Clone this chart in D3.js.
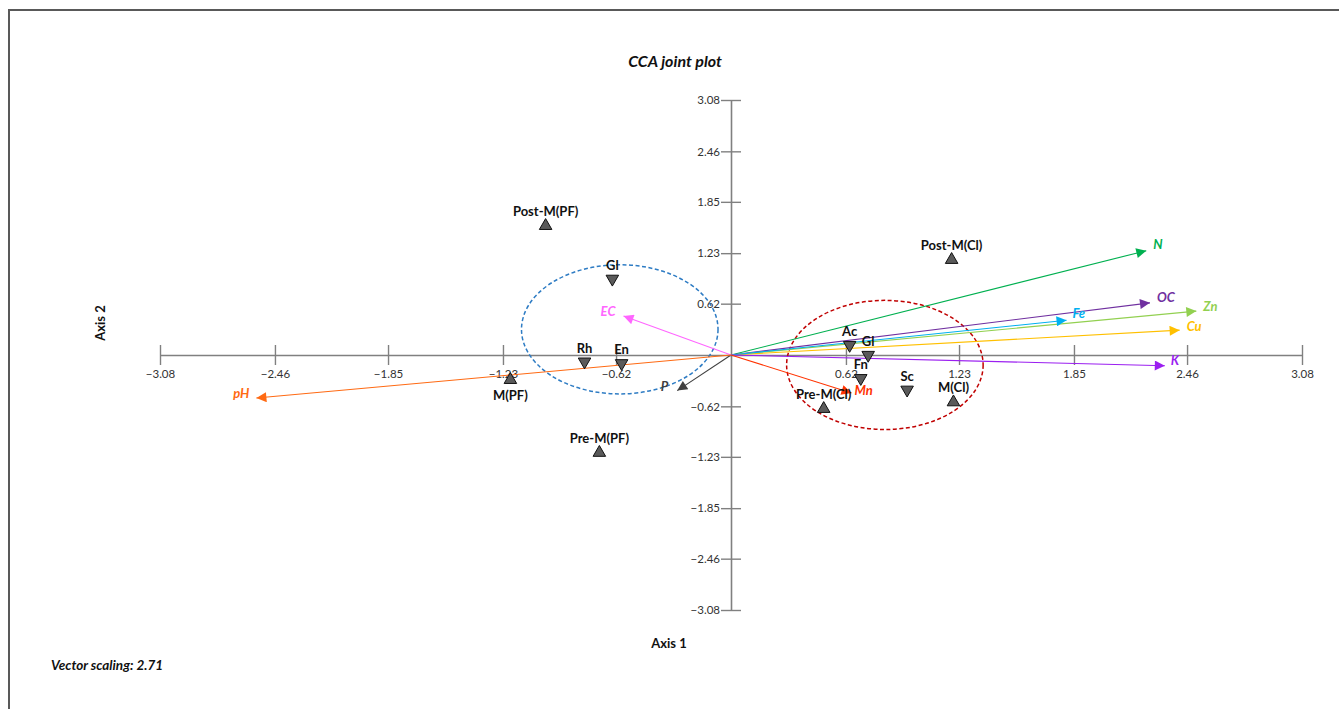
<!DOCTYPE html>
<html>
 <head>
  <meta charset="utf-8" />
  <title>CCA joint plot</title>
  <script src="https://cdn.jsdelivr.net/npm/d3@7"></script>
  <style>
    body { margin: 0; background: #fff; }
    text { font-family: Lato, "Open Sans", sans-serif; }
  </style>
 </head>
 <body>
  <script>
    // ticks shown on both axes
    var tickValues = [-3.08, -2.46, -1.85, -1.23, -0.62, 0.62, 1.23, 1.85, 2.46, 3.08];

    // sites (up triangles)
    var siteNames = ["Post-M(PF)", "M(PF)", "Pre-M(PF)", "Post-M(Cl)", "Pre-M(Cl)", "M(Cl)"];
    var siteX     = [-1.00, -1.19, -0.71, 1.19, 0.50, 1.20];
    var siteY     = [ 1.56, -0.30, -1.18, 1.15, -0.65, -0.57];
    var siteLabelBelow = [false, true, false, false, false, false];

    // species (down triangles)
    var speciesNames = ["Gl", "Rh", "En", "Ac", "Gl", "Fn", "Sc"];
    var speciesX     = [-0.64, -0.79, -0.59, 0.64, 0.74, 0.70, 0.95];
    var speciesY     = [ 0.92, -0.08, -0.10, 0.12, 0.00, -0.28, -0.42];

    // environmental vectors
    var envNames  = ["N", "OC", "Zn", "Cu", "Fe", "K", "Mn", "P", "EC", "pH"];
    var envX      = [2.24, 2.26, 2.51, 2.42, 1.81, 2.34, 0.65, -0.29, -0.58, -2.56];
    var envY      = [1.26, 0.63, 0.53, 0.30, 0.42, -0.13, -0.46, -0.43, 0.47, -0.52];
    var envColors = ["#00b050", "#7030a0", "#92d050", "#ffc000", "#00b0f0", "#9b1ff0", "#ff3300", "#404040", "#ff66ff", "#ff6a13"];
    var envLabelDx = [7, 7, 7, 7, 6, 6, 3, -9, -8, -7];
    var envLabelDy = [-6, -5, -5, -4, -7, -5, -3, -4, -5, -5];

    // groups (dashed ellipses): centre and radii in axis units
    var groupCx = [-0.60, 0.83];
    var groupCy = [ 0.31, -0.12];
    var groupRx = [ 0.53, 0.53];
    var groupRy = [ 0.78, 0.78];
    var groupColors = ["#2e7cc4", "#c00000"];

    var W = 1339, H = 709;
    var x = d3.scaleLinear().domain([-3.08, 3.08]).range([160, 1302]);
    var y = d3.scaleLinear().domain([-3.08, 3.08]).range([610, 100]);

    var svg = d3.select("body").append("svg")
        .attr("width", W).attr("height", H);

    // frame
    svg.append("line").attr("x1", 8).attr("y1", 10).attr("x2", W).attr("y2", 10)
        .attr("stroke", "#595959").attr("stroke-width", 2);
    svg.append("line").attr("x1", 9).attr("y1", 10).attr("x2", 9).attr("y2", H)
        .attr("stroke", "#595959").attr("stroke-width", 2);

    var defs = svg.append("defs");
    envColors.forEach(function(c, i) {
      defs.append("marker")
          .attr("id", "arrow" + i)
          .attr("viewBox", "0 -5 10 10")
          .attr("refX", 10).attr("refY", 0)
          .attr("markerWidth", 12).attr("markerHeight", 10)
          .attr("markerUnits", "userSpaceOnUse")
          .attr("orient", "auto")
        .append("path")
          .attr("d", "M0,-5L10,0L0,5Z")
          .attr("fill", c);
    });

    // axes through origin
    var xAxis = d3.axisBottom(x).tickValues(tickValues).tickSize(0)
        .tickFormat(d3.format(".2f"));
    var gx = svg.append("g").attr("transform", "translate(0," + y(0) + ")").call(xAxis);
    gx.select(".domain").attr("stroke", "#808080").attr("stroke-width", 1.6);
    gx.selectAll(".tick line").attr("y1", -10).attr("y2", 10)
        .attr("stroke", "#808080").attr("stroke-width", 1.4);
    gx.selectAll(".tick text").attr("dy", 0).attr("y", 23)
        .attr("font-size", 11.5).attr("fill", "#333").attr("font-family", "Lato, sans-serif");

    var yAxis = d3.axisLeft(y).tickValues(tickValues).tickSize(0)
        .tickFormat(d3.format(".2f"));
    var gy = svg.append("g").attr("transform", "translate(" + x(0) + ",0)").call(yAxis);
    gy.select(".domain").attr("stroke", "#808080").attr("stroke-width", 1.6);
    gy.selectAll(".tick line").attr("x1", -10).attr("x2", 10)
        .attr("stroke", "#808080").attr("stroke-width", 1.4);
    gy.selectAll(".tick text").attr("x", -11)
        .attr("font-size", 11.5).attr("fill", "#333").attr("font-family", "Lato, sans-serif");

    // group ellipses
    groupCx.forEach(function(cx, i) {
      svg.append("ellipse")
          .attr("cx", x(cx)).attr("cy", y(groupCy[i]))
          .attr("rx", x(groupRx[i]) - x(0)).attr("ry", y(0) - y(groupRy[i]))
          .attr("fill", "none")
          .attr("stroke", groupColors[i])
          .attr("stroke-width", 1.5)
          .attr("stroke-dasharray", "4,2.5");
    });

    // vectors
    envNames.forEach(function(n, i) {
      svg.append("line")
          .attr("x1", x(0)).attr("y1", y(0))
          .attr("x2", x(envX[i])).attr("y2", y(envY[i]))
          .attr("stroke", envColors[i]).attr("stroke-width", 1.1)
          .attr("marker-end", "url(#arrow" + i + ")");
      svg.append("text")
          .attr("x", x(envX[i]) + envLabelDx[i])
          .attr("y", y(envY[i]) + envLabelDy[i])
          .attr("dy", "0.35em")
          .attr("text-anchor", envLabelDx[i] < 0 ? "end" : "start")
          .attr("font-size", 13).attr("font-weight", "bold").attr("font-style", "italic")
          .attr("fill", envColors[i])
          .text(n);
    });

    var tri = d3.symbol().type(d3.symbolTriangle).size(68);

    // species
    speciesNames.forEach(function(n, i) {
      svg.append("path")
          .attr("d", tri)
          .attr("transform", "translate(" + x(speciesX[i]) + "," + y(speciesY[i]) + ") rotate(180)")
          .attr("fill", "#5a5a5a").attr("stroke", "#111").attr("stroke-width", 1);
      svg.append("text")
          .attr("x", x(speciesX[i])).attr("y", y(speciesY[i]) - 9)
          .attr("text-anchor", "middle")
          .attr("font-size", 13).attr("font-weight", "bold").attr("fill", "#111")
          .text(n);
    });

    // sites
    siteNames.forEach(function(n, i) {
      svg.append("path")
          .attr("d", tri)
          .attr("transform", "translate(" + x(siteX[i]) + "," + y(siteY[i]) + ")")
          .attr("fill", "#5a5a5a").attr("stroke", "#111").attr("stroke-width", 1);
      svg.append("text")
          .attr("x", x(siteX[i]))
          .attr("y", y(siteY[i]) + (siteLabelBelow[i] ? 20 : -10))
          .attr("text-anchor", "middle")
          .attr("font-size", 13).attr("font-weight", "bold").attr("fill", "#111")
          .text(n);
    });

    // titles
    svg.append("text").attr("x", 675).attr("y", 67).attr("text-anchor", "middle")
        .attr("font-size", 16).attr("font-weight", "bold").attr("font-style", "italic")
        .attr("fill", "#111").text("CCA joint plot");
    svg.append("text").attr("x", 669).attr("y", 648).attr("text-anchor", "middle")
        .attr("font-size", 13).attr("font-weight", "bold").attr("fill", "#111").text("Axis 1");
    svg.append("text").attr("transform", "translate(105,323) rotate(-90)")
        .attr("text-anchor", "middle")
        .attr("font-size", 13).attr("font-weight", "bold").attr("fill", "#111").text("Axis 2");
    svg.append("text").attr("x", 51).attr("y", 670)
        .attr("font-size", 13.5).attr("font-weight", "bold").attr("font-style", "italic")
        .attr("fill", "#111").text("Vector scaling: 2.71");
  </script>
 </body>
</html>
